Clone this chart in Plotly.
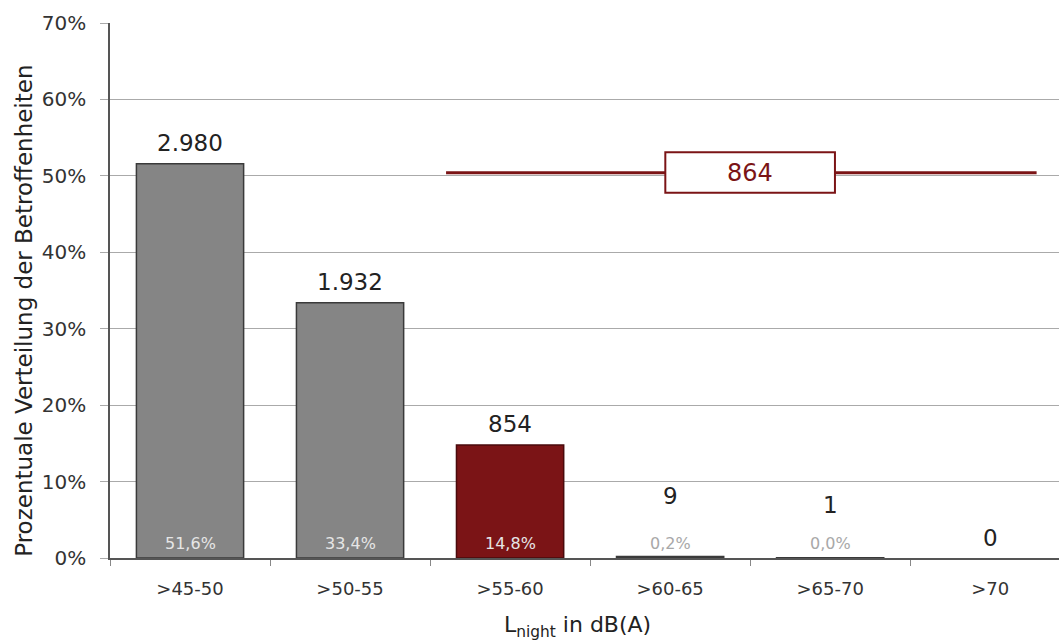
import plotly.graph_objects as go

categories = [">45-50", ">50-55", ">55-60", ">60-65", ">65-70", ">70"]
percent_values = [51.6, 33.4, 14.8, 0.2, 0.02, None]
percent_labels = ["51,6%", "33,4%", "14,8%", "0,2%", "0,0%", ""]
count_labels = ["2.980", "1.932", "854", "9", "1", "0"]
total_label = "864"
total_level = 50.4
y_ticks = [0, 10, 20, 30, 40, 50, 60, 70]
y_tick_text = ["0%", "10%", "20%", "30%", "40%", "50%", "60%", "70%"]

GRAY = "#858585"
RED = "#7b1416"
FONT = "DejaVu Sans"

bar_colors = [GRAY, GRAY, RED, GRAY, GRAY, GRAY]
line_colors = ["#3a3a3a", "#3a3a3a", "#4a0a0c", "#3a3a3a", "#3a3a3a", "#3a3a3a"]
count_shift = [21, 21, 21, 60, 53, 20]
pct_colors = ["#e6e6e6", "#e6e6e6", "#e6e6e6", "#a8a8a8", "#a8a8a8", "#a8a8a8"]

fig = go.Figure()
fig.add_trace(go.Bar(
    x=categories, y=percent_values, width=0.67,
    marker=dict(color=bar_colors, line=dict(color=line_colors, width=1.5)),
    hoverinfo="skip", showlegend=False,
))

annotations = []
for i, cat in enumerate(categories):
    v = percent_values[i] or 0
    annotations.append(dict(x=cat, y=v, xref="x", yref="y", text=count_labels[i],
                            showarrow=False, yanchor="middle", yshift=count_shift[i],
                            font=dict(family=FONT, size=23, color="#222222")))
    if percent_labels[i]:
        annotations.append(dict(x=cat, y=0, xref="x", yref="y", text=percent_labels[i],
                                showarrow=False, yanchor="middle", yshift=15,
                                font=dict(family=FONT, size=16, color=pct_colors[i])))

# total for >55 dB(A)
annotations.append(dict(x=3.5, y=total_level, xref="x", yref="y", text=total_label,
                        showarrow=False, yanchor="middle",
                        font=dict(family=FONT, size=24, color=RED)))
# axis titles
annotations.append(dict(x=0, y=0.462, xref="paper", yref="paper", xanchor="center",
                        yanchor="middle", xshift=-86, textangle=-90, showarrow=False,
                        text="Prozentuale Verteilung der Betroffenheiten",
                        font=dict(family=FONT, size=23, color="#222222")))
annotations.append(dict(x=0.493, y=0, xref="paper", yref="paper", xanchor="center",
                        yanchor="middle", yshift=-68, showarrow=False,
                        text="L<sub>night</sub> in dB(A)",
                        font=dict(family=FONT, size=22, color="#222222")))

shapes = [
    dict(type="line", xref="x", yref="y", x0=1.6, x1=5.29, y0=total_level, y1=total_level,
         line=dict(color=RED, width=3), layer="above"),
    dict(type="rect", xref="x", yref="y", x0=2.97, x1=4.03, y0=47.8, y1=53.1,
         fillcolor="white", line=dict(color=RED, width=2), layer="above"),
]

fig.update_layout(
    width=1059, height=644,
    margin=dict(l=110, r=0, t=23, b=86),
    paper_bgcolor="white", plot_bgcolor="white",
    font=dict(family=FONT, color="#333333"),
    annotations=annotations, shapes=shapes,
    bargap=0.33,
)
fig.update_xaxes(
    type="category", range=[-0.5, 5.43],
    showline=True, linecolor="#555555", linewidth=1.5,
    ticks="outside", tickson="boundaries", ticklen=6, tickcolor="#888888",
    ticklabelstandoff=14,
    tickfont=dict(family=FONT, size=18, color="#333333"),
    showgrid=False, zeroline=False, fixedrange=True,
)
fig.update_yaxes(
    range=[0, 70], tickvals=y_ticks, ticktext=y_tick_text,
    showline=True, linecolor="#555555", linewidth=1.5,
    ticks="outside", ticklen=8, tickcolor="#aaaaaa", ticklabelstandoff=10,
    tickfont=dict(family=FONT, size=20, color="#333333"),
    showgrid=True, gridcolor="#aaaaaa", gridwidth=1, zeroline=False, fixedrange=True,
)

fig.write_html("out.html", config={"displayModeBar": False})
